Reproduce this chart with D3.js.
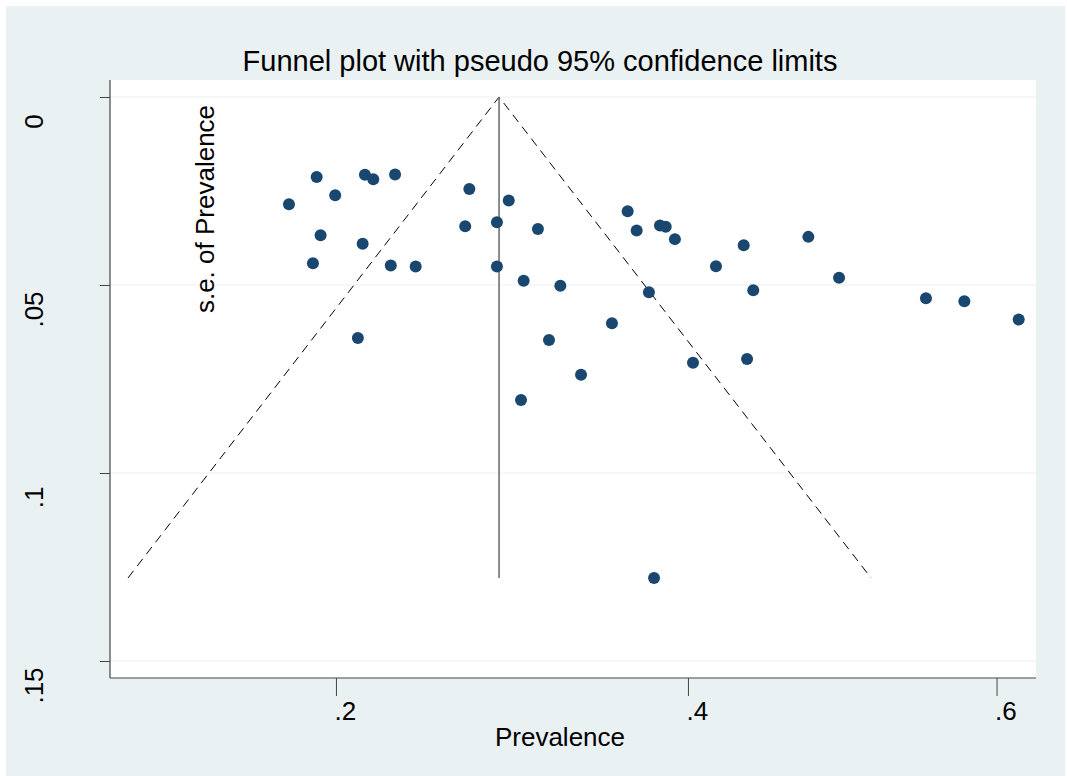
<!DOCTYPE html>
<html>
<head>
<meta charset="utf-8">
<script src="https://cdn.jsdelivr.net/npm/d3@7/dist/d3.min.js"></script>
<style>
    body { margin: 0; background: #ffffff; }
    svg text { font-family: "Liberation Sans", Arial, sans-serif; fill: #000000; }
</style>
</head>
<body>
<script>
//wrap in an anonymous function so nothing ends up in global scope
(function (){

    //study estimates (prevalence, standard error)
    var prevalence = [0.1761, 0.1901, 0.1996, 0.2151, 0.2195, 0.2311, 0.1921, 0.2139, 0.1882, 0.2288,
                      0.2422, 0.2717, 0.2939, 0.2694, 0.2872, 0.3106, 0.2872, 0.3024, 0.3634, 0.3688,
                      0.3829, 0.3864, 0.3920, 0.4346, 0.4173, 0.4756, 0.4954, 0.3236, 0.3762, 0.4406,
                      0.3540, 0.5525, 0.5782, 0.6151, 0.2114, 0.3170, 0.3357, 0.3009, 0.4031, 0.4367,
                      0.3793];
    var stdErr = [0.0285, 0.0213, 0.0261, 0.0207, 0.0219, 0.0206, 0.0368, 0.0390, 0.0442, 0.0448,
                  0.0451, 0.0245, 0.0275, 0.0344, 0.0333, 0.0351, 0.0451, 0.0489, 0.0304, 0.0355,
                  0.0342, 0.0345, 0.0378, 0.0394, 0.0450, 0.0372, 0.0481, 0.0502, 0.0519, 0.0514,
                  0.0602, 0.0535, 0.0543, 0.0592, 0.0641, 0.0646, 0.0739, 0.0806, 0.0707, 0.0697,
                  0.1279];

    //pseudo 95% limits: lower limit, pooled estimate, upper limit
    var funnelX = [0.1006, 0.2884, 0.5162];
    var funnelSe = [0.1279, 0, 0.1279];
    var pooled = 0.2884;

    var xTicks = [0.2, 0.4, 0.6];
    var yTicks = [0, 0.05, 0.1, 0.15];

    var width = 1067, height = 776;
    var plot = {left: 110, right: 1036, top: 80, bottom: 678};

    var svg = d3.select("body")
        .append("svg")
        .attr("width", width)
        .attr("height", height);

    //graph region
    svg.append("rect")
        .attr("x", 6).attr("y", 6)
        .attr("width", 1059).attr("height", 770)
        .style("fill", "#eaf1f3");

    //plot region
    svg.append("rect")
        .attr("x", plot.left).attr("y", plot.top)
        .attr("width", plot.right - plot.left).attr("height", plot.bottom - plot.top)
        .style("fill", "#ffffff");

    //x axis is drawn on a transformed (power) scale
    var x = d3.scalePow()
        .exponent(0.75)
        .domain([0.09283, 0.62696])
        .range([plot.left, plot.right]);

    //s.e. axis runs downward
    var y = d3.scaleLinear()
        .domain([-0.00452, 0.15452])
        .range([plot.top, plot.bottom]);

    var fmt = function(d){
        return d === 0 ? "0" : d3.format("~g")(d).replace(/^0\./, ".");
    };

    //horizontal grid lines
    svg.selectAll(".grid")
        .data(yTicks)
        .enter()
        .append("line")
        .attr("class", "grid")
        .attr("x1", plot.left).attr("x2", plot.right)
        .attr("y1", function(d){ return y(d); })
        .attr("y2", function(d){ return y(d); })
        .style("stroke", "#eaf1f3")
        .style("stroke-width", 1.2);

    //dashed confidence limits
    var limitLine = d3.line()
        .x(function(d, i){ return x(funnelX[i]); })
        .y(function(d, i){ return y(funnelSe[i]); });

    svg.append("path")
        .datum(funnelX)
        .attr("d", limitLine)
        .style("fill", "none")
        .style("stroke", "#000000")
        .style("stroke-width", 1)
        .style("stroke-dasharray", "9,6");

    //pooled estimate line
    svg.append("line")
        .attr("x1", x(pooled)).attr("x2", x(pooled))
        .attr("y1", y(0)).attr("y2", y(d3.max(funnelSe)))
        .style("stroke", "#707070")
        .style("stroke-width", 1.6);

    //study markers
    svg.selectAll(".study")
        .data(prevalence)
        .enter()
        .append("circle")
        .attr("class", "study")
        .attr("cx", function(d){ return x(d); })
        .attr("cy", function(d, i){ return y(stdErr[i]); })
        .attr("r", 6)
        .style("fill", "#1a476f");

    //y axis
    var yAxis = svg.append("g")
        .attr("transform", "translate(" + plot.left + ",0)")
        .call(d3.axisLeft(y).tickValues(yTicks).tickSize(10).tickFormat(fmt));
    yAxis.select(".domain").attr("d", "M0," + plot.top + "V" + plot.bottom).style("stroke", "#222");
    yAxis.selectAll(".tick line").style("stroke", "#444");
    yAxis.selectAll(".tick text")
        .attr("x", 0).attr("dy", 0)
        .attr("transform", "translate(-67,24) rotate(-90)")
        .attr("text-anchor", "middle")
        .style("font-size", "26px");

    //x axis
    var xAxis = svg.append("g")
        .attr("transform", "translate(0," + plot.bottom + ")")
        .call(d3.axisBottom(x).tickValues(xTicks).tickSize(18).tickFormat(fmt));
    xAxis.select(".domain").attr("d", "M" + plot.left + ",0H" + plot.right).style("stroke", "#444");
    xAxis.selectAll(".tick line").style("stroke", "#444");
    xAxis.selectAll(".tick text")
        .attr("y", 42).attr("dy", 0)
        .attr("x", -2)
        .attr("text-anchor", "start")
        .style("font-size", "26px");

    //title
    svg.append("text")
        .attr("x", 540)
        .attr("y", 71)
        .attr("text-anchor", "middle")
        .style("font-size", "29px")
        .text("Funnel plot with pseudo 95% confidence limits");

    //axis titles
    svg.append("text")
        .attr("x", 560)
        .attr("y", 746)
        .attr("text-anchor", "middle")
        .style("font-size", "26px")
        .text("Prevalence");

    svg.append("text")
        .attr("transform", "translate(214,209) rotate(-90)")
        .attr("text-anchor", "middle")
        .style("font-size", "26px")
        .text("s.e. of Prevalence");

})();
</script>
</body>
</html>
